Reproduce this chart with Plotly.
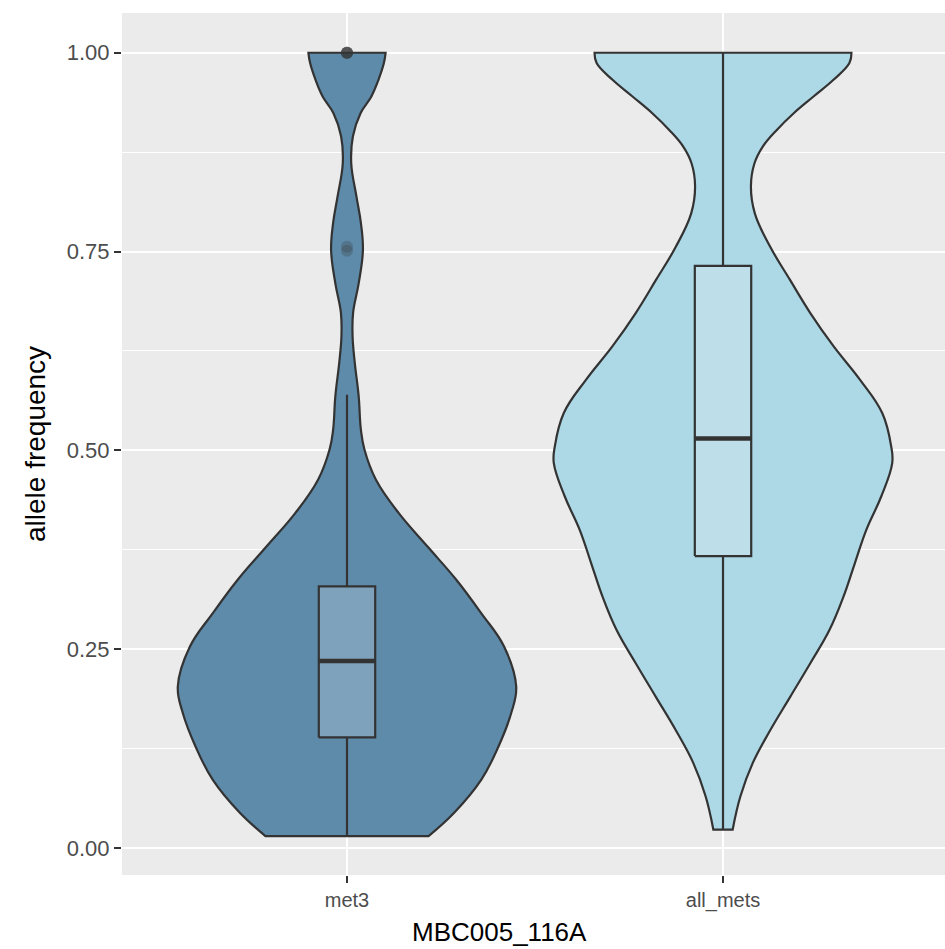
import plotly.graph_objects as go

# Groups on the x axis
groups = ["met3", "all_mets"]
group_pos = [1, 2]

# Violin outlines: allele frequency grid and relative density (1 = widest point)
met3_af = [0.015, 0.044, 0.086, 0.127, 0.170, 0.203, 0.253, 0.295, 0.337, 0.379,
           0.421, 0.463, 0.501, 0.526, 0.568, 0.610, 0.643, 0.673, 0.710, 0.752,
           0.786, 0.819, 0.861, 0.895, 0.924, 0.945, 0.966, 0.987, 1.000]
met3_dens = [0.482, 0.632, 0.794, 0.894, 0.971, 1.000, 0.929, 0.794, 0.647, 0.476,
             0.306, 0.171, 0.103, 0.082, 0.069, 0.046, 0.033, 0.036, 0.069, 0.094,
             0.082, 0.056, 0.025, 0.035, 0.080, 0.144, 0.186, 0.218, 0.228]

all_af = [0.023, 0.065, 0.107, 0.148, 0.190, 0.232, 0.274, 0.316, 0.358, 0.400,
          0.442, 0.484, 0.505, 0.547, 0.589, 0.631, 0.673, 0.714, 0.756, 0.798,
          0.832, 0.861, 0.882, 0.903, 0.924, 0.945, 0.966, 0.987, 1.000]
all_dens = [0.057, 0.103, 0.176, 0.279, 0.397, 0.515, 0.629, 0.712, 0.779, 0.847,
            0.935, 1.000, 0.994, 0.941, 0.809, 0.653, 0.515, 0.397, 0.279, 0.188,
            0.165, 0.186, 0.235, 0.318, 0.418, 0.535, 0.653, 0.747, 0.759]

# Box summaries: lower whisker, q1, median, q3, upper whisker
lower = [0.015, 0.023]
q1 = [0.139, 0.367]
median = [0.235, 0.515]
q3 = [0.329, 0.732]
upper = [0.570, 1.000]

# Outlying values of met3
met3_outliers = [0.751, 0.756, 1.0, 1.0, 1.0, 1.0, 1.0, 1.0]

violin_fill = ["#5E8BAA", "#ADD8E6"]
box_fill = ["#7EA2BB", "#BEDFEA"]
ink = "#333333"
half_width = 0.45
box_width = 0.15
lw = 2.2

fig = go.Figure()

for i, (af, dens) in enumerate([(met3_af, met3_dens), (all_af, all_dens)]):
    c = group_pos[i]
    right = [c + half_width * d for d in dens]
    left = [c - half_width * d for d in reversed(dens)]
    # corner points are doubled so the flat ends stay square under spline smoothing
    xs = [right[0]] + right + [right[-1]] + [left[0]] + left + [left[-1]] + [right[0], right[0]]
    ys = [af[0]] + list(af) + [af[-1]] + [af[-1]] + list(reversed(af)) + [af[0]] + [af[0], af[0]]
    fig.add_trace(go.Scatter(
        x=xs, y=ys, mode="lines", fill="toself", fillcolor=violin_fill[i],
        line=dict(color=ink, width=lw, shape="spline", smoothing=1.15),
        hoverinfo="skip", showlegend=False))

for i in range(2):
    c = group_pos[i]
    lo, hi = c - box_width / 2, c + box_width / 2
    # whiskers
    fig.add_trace(go.Scatter(
        x=[c, c, None, c, c], y=[lower[i], q1[i], None, q3[i], upper[i]],
        mode="lines", line=dict(color=ink, width=lw), showlegend=False, hoverinfo="skip"))
    # box body
    fig.add_trace(go.Scatter(
        x=[lo, hi, hi, lo, lo], y=[q1[i], q1[i], q3[i], q3[i], q1[i]],
        mode="lines", fill="toself", fillcolor=box_fill[i],
        line=dict(color=ink, width=lw), showlegend=False, hoverinfo="skip"))
    # median
    fig.add_trace(go.Scatter(
        x=[lo, hi], y=[median[i], median[i]],
        mode="lines", line=dict(color=ink, width=4.5), showlegend=False, hoverinfo="skip"))

fig.add_trace(go.Scatter(
    x=[group_pos[0]] * len(met3_outliers), y=met3_outliers, mode="markers",
    marker=dict(size=12, color="rgba(51,51,51,0.25)", line=dict(width=0)),
    showlegend=False, hoverinfo="skip"))

fig.update_layout(
    width=945, height=949,
    margin=dict(l=122, r=0, t=13, b=74),
    paper_bgcolor="white", plot_bgcolor="#EBEBEB",
    font=dict(family="Liberation Sans, Arial, sans-serif"),
    annotations=[
        dict(text="MBC005_116A", xref="paper", yref="paper", x=(499 - 122) / 823, y=-(932 - 875) / 862,
             xanchor="center", yanchor="middle", showarrow=False,
             font=dict(size=26, color="black")),
        dict(text="allele frequency", xref="paper", yref="paper", x=-(122 - 35) / 823, y=0.5,
             xanchor="center", yanchor="middle", textangle=-90, showarrow=False,
             font=dict(size=28, color="black")),
    ],
)
fig.update_xaxes(
    range=[0.4016, 2.5904], tickmode="array", tickvals=group_pos, ticktext=groups,
    showgrid=True, gridcolor="white", gridwidth=2, zeroline=False,
    ticks="outside", ticklen=7, tickwidth=2, tickcolor=ink,
    tickfont=dict(size=20, color="#4D4D4D"),
)
fig.update_yaxes(
    range=[-0.034, 1.050], tickmode="array", tickvals=[0, 0.25, 0.5, 0.75, 1.0],
    tickformat=".2f",
    showgrid=True, gridcolor="white", gridwidth=2, zeroline=False,
    minor=dict(tickmode="array", tickvals=[0.125, 0.375, 0.625, 0.875],
               showgrid=True, gridcolor="white", gridwidth=1),
    ticks="outside", ticklen=7, tickwidth=2, tickcolor=ink,
    tickfont=dict(size=22, color="#4D4D4D"),
)

fig.write_html("out.html")
